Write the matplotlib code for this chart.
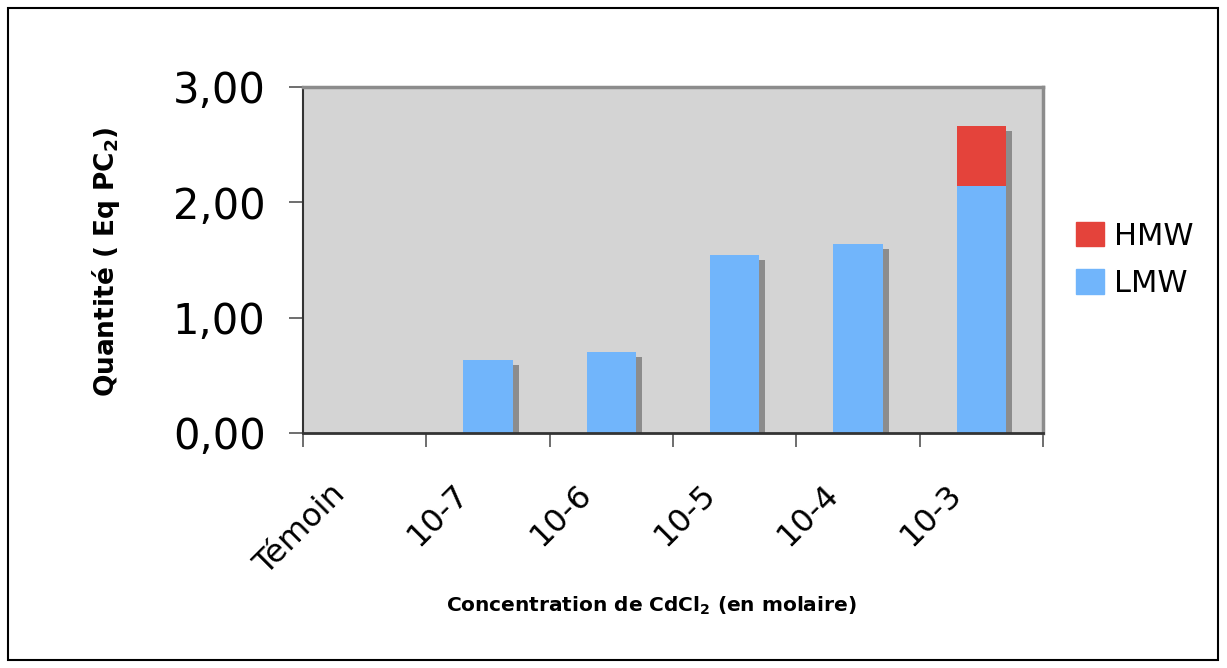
import matplotlib
matplotlib.use("Agg")
import matplotlib.pyplot as plt
import matplotlib.transforms as mtrans
from matplotlib.patches import Rectangle, Patch
import numpy as np

categories = ["Témoin", "10-7", "10-6", "10-5", "10-4", "10-3"]
lmw = [0.0, 0.63, 0.70, 1.54, 1.64, 2.14]
hmw = [0.0, 0.0, 0.0, 0.0, 0.0, 0.52]
yticks = [0, 1, 2, 3]
ytick_labels = ["0,00", "1,00", "2,00", "3,00"]

plt.rcParams['font.family'] = ['DejaVu Sans']

fig = plt.figure(figsize=(12.27, 6.68), dpi=100)
fig.patch.set_facecolor("white")
ax = fig.add_axes([303/1227, 1-433/668, (1043-303)/1227, (433-87)/668])
ax.set_facecolor("#d4d4d4")

x = np.arange(len(categories))
xc = x + 0.5
w = 0.40
total = [a + b for a, b in zip(lmw, hmw)]
shadow_tr = ax.transData + mtrans.ScaledTranslation(6/100, -5/100, fig.dpi_scale_trans)
for xi, t in zip(xc, total):
    if t > 0:
        r = Rectangle((xi - w/2, 0), w, t, facecolor="#8c8c8c", edgecolor="none",
                      transform=shadow_tr, zorder=1)
        r.set_clip_path(ax.patch)
        ax.add_patch(r)
ax.bar(xc, lmw, w, color="#71b5fb", zorder=2, label="LMW")
ax.bar(xc, hmw, w, bottom=lmw, color="#e4433b", zorder=2, label="HMW")

ax.set_xlim(0, len(categories))
ax.set_ylim(0, 3)
ax.set_yticks(yticks)
ax.set_yticklabels(ytick_labels, fontsize=30)
ax.tick_params(axis='y', length=10, width=1.2, color="#555555", pad=17)

# category labels (rotated), placed along the x axis
ax.set_xticks(xc)
ax.set_xticklabels([])
ax.tick_params(axis='x', which='major', length=0)
lab_tr = ax.get_xaxis_transform() + mtrans.ScaledTranslation(-35/100, -46/100, fig.dpi_scale_trans)
for xi, c in zip(xc, categories):
    ax.text(xi, 0, c, transform=lab_tr, rotation=45, ha='right', va='top',
            rotation_mode='anchor', fontsize=23, clip_on=False)
ax.set_xticks(np.arange(len(categories)+1), minor=True)
ax.tick_params(axis='x', which='minor', length=10, width=1.2, color="#555555")

for s in ["top", "right"]:
    ax.spines[s].set_color("#8c8c8c")
    ax.spines[s].set_linewidth(2.5)
ax.spines["left"].set_color("#333333")
ax.spines["left"].set_linewidth(1.5)
ax.spines["bottom"].set_color("#333333")
ax.spines["bottom"].set_linewidth(2)

fig.text(106/1227, 1-262/668, "Quantité ( Eq PC$_\\mathbf{2}$)", rotation=90, ha='center', va='center',
         fontsize=19, fontweight='bold')
fig.text(651/1227, 1-606/668, "Concentration de CdCl$_\\mathbf{2}$ (en molaire)", ha='center', va='center',
         fontsize=14.5, fontweight='bold')

handles = [Patch(color="#e4433b", label="HMW"), Patch(color="#71b5fb", label="LMW")]
fig.legend(handles=handles, loc='center left', bbox_to_anchor=(1076/1227, 1-260/668),
           frameon=False, fontsize=22, handlelength=0.9, handleheight=0.85,
           handletextpad=0.33, labelspacing=0.6, borderpad=0, borderaxespad=0)

fig.add_artist(Rectangle((8/1227, 8/668), 1210/1227, 652/668, transform=fig.transFigure,
                         fill=False, edgecolor="black", linewidth=1.5))

fig.savefig("out.png", dpi=100)
